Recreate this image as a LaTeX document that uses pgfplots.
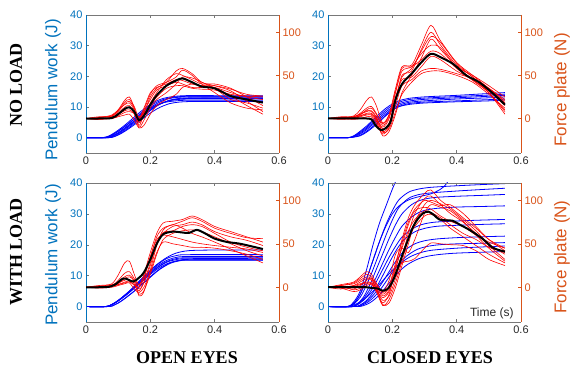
\documentclass[border=0pt]{standalone}
\usepackage{pgfplots}
\pgfplotsset{compat=1.18}
\usepackage{fontspec}
\setmainfont{Liberation Sans}
\newfontfamily\timesfont{Liberation Serif}
\definecolor{matblue}{RGB}{0,114,189}
\definecolor{matorange}{RGB}{217,83,25}
\definecolor{axgray}{RGB}{120,120,120}
\definecolor{txtgray}{RGB}{40,40,40}
\pgfplotsset{
  panel/.style={scale only axis, width=193pt, height=138pt, xmin=0, xmax=0.6,
    anchor=south west, clip mode=individual, tick align=inside, major tick length=3pt,
    /pgf/number format/assume math mode=true,
    ticklabel style={font=\fontsize{11}{13}\selectfont},
    axis line style={draw=none}},
  leftax/.style={panel, ymin=-5, ymax=40, ytick={0,10,20,30,40}, xtick={0,0.2,0.4,0.6},
    ytick pos=left, tick style={axgray, line width=0.5pt},
    yticklabel style={text=matblue}, xticklabel style={text=txtgray}},
  rightax/.style={panel, ymin=-40, ymax=120, ytick={0,50,100}, xtick=\empty,
    ytick pos=right, yticklabel pos=right, tick style={matorange, line width=0.5pt},
    yticklabel style={text=matorange}},
  rl/.style={red, line width=0.6pt, smooth},
  bl/.style={blue, line width=0.8pt, smooth},
  kl/.style={black, line width=2pt, smooth},
}
\newcommand{\leftspines}{%
  \draw[axgray, line width=0.5pt] (rel axis cs:0,0) -- (rel axis cs:1,0) (rel axis cs:0,1) -- (rel axis cs:1,1);
  \draw[matblue, line width=0.6pt] (rel axis cs:0,0) -- (rel axis cs:0,1);}
\newcommand{\rightspine}{%
  \draw[matorange, line width=0.6pt] (rel axis cs:1,0) -- (rel axis cs:1,1);}
\begin{document}
\begin{tikzpicture}
\useasboundingbox (0,0) rectangle (570pt,369pt);

%================ TOP LEFT: NO LOAD, OPEN EYES =================
\begin{axis}[leftax, at={(86pt,216pt)}]
\addplot[bl] coordinates {(0,0) (0.05,0) (0.07,0.5) (0.09,1.7) (0.11,3.2) (0.13,4.9) (0.15,6.7) (0.17,8.5) (0.19,10.1) (0.21,11.5) (0.24,12.8) (0.27,13.4) (0.31,13.7) (0.40,13.7) (0.55,13.7)};
\addplot[bl] coordinates {(0,0) (0.055,0) (0.075,0.5) (0.095,1.7) (0.115,3.2) (0.135,4.8) (0.155,6.6) (0.175,8.4) (0.195,10.0) (0.215,11.3) (0.245,12.6) (0.275,13.2) (0.315,13.5) (0.40,13.5) (0.55,13.5)};
\addplot[bl] coordinates {(0,0) (0.06,0) (0.08,0.5) (0.10,1.6) (0.12,3.1) (0.14,4.7) (0.16,6.4) (0.18,8.2) (0.20,9.8) (0.22,11.1) (0.25,12.5) (0.28,13.1) (0.32,13.3) (0.40,13.3) (0.55,13.3)};
\addplot[bl] coordinates {(0,0) (0.07,0) (0.09,0.5) (0.11,1.6) (0.13,3.0) (0.15,4.6) (0.17,6.3) (0.19,8.0) (0.21,9.6) (0.23,10.9) (0.26,12.2) (0.29,12.8) (0.33,13.0) (0.40,13.0) (0.55,13.0)};
\addplot[bl] coordinates {(0,0) (0.065,0) (0.085,0.5) (0.105,1.6) (0.125,3.0) (0.145,4.6) (0.165,6.2) (0.185,7.9) (0.205,9.4) (0.225,10.7) (0.255,12.0) (0.285,12.6) (0.325,12.8) (0.40,12.8) (0.55,12.8)};
\addplot[bl] coordinates {(0,0) (0.06,0) (0.08,0.5) (0.10,1.5) (0.12,2.9) (0.14,4.5) (0.16,6.1) (0.18,7.8) (0.20,9.3) (0.22,10.6) (0.25,11.8) (0.28,12.4) (0.32,12.6) (0.40,12.6) (0.55,12.6)};
\addplot[bl] coordinates {(0,0) (0.05,0) (0.07,0.4) (0.09,1.5) (0.11,2.8) (0.13,4.4) (0.15,6.0) (0.17,7.6) (0.19,9.0) (0.21,10.2) (0.24,11.4) (0.27,11.9) (0.31,12.2) (0.40,12.2) (0.55,12.2)};
\addplot[bl] coordinates {(0,0) (0.07,0) (0.09,0.4) (0.11,1.4) (0.13,2.7) (0.15,4.2) (0.17,5.7) (0.19,7.3) (0.21,8.7) (0.23,9.9) (0.26,11.1) (0.29,11.6) (0.33,11.8) (0.40,11.8) (0.55,11.8)};
\leftspines
\end{axis}
\begin{axis}[rightax, at={(86pt,216pt)}]
\addplot[rl] coordinates {(0,0) (0.04,1) (0.08,3) (0.10,10) (0.12,21) (0.135,25) (0.15,12) (0.165,-8) (0.18,6) (0.20,25) (0.22,35) (0.25,42) (0.28,55) (0.30,58) (0.33,52) (0.36,42) (0.40,38) (0.45,32) (0.50,20) (0.55,8)};
\addplot[rl] coordinates {(0,0) (0.04,-1) (0.08,2) (0.10,8) (0.12,17) (0.135,20) (0.15,12) (0.165,-5) (0.18,4) (0.20,18) (0.22,30) (0.25,45) (0.28,52) (0.30,50) (0.33,45) (0.36,40) (0.40,40) (0.45,35) (0.50,25) (0.55,15)};
\addplot[rl] coordinates {(0,0) (0.04,0) (0.08,1) (0.10,6) (0.12,13) (0.135,15) (0.15,5) (0.165,-10) (0.18,-2) (0.20,12) (0.22,22) (0.25,30) (0.28,40) (0.30,48) (0.33,47) (0.36,42) (0.40,35) (0.45,22) (0.50,18) (0.55,12)};
\addplot[rl] coordinates {(0,0) (0.04,2) (0.08,2) (0.10,5) (0.12,9) (0.135,10) (0.15,6) (0.165,0) (0.18,8) (0.20,22) (0.22,33) (0.25,38) (0.28,42) (0.30,40) (0.33,36) (0.36,36) (0.40,36) (0.45,30) (0.50,25) (0.55,22)};
\addplot[rl] coordinates {(0,0) (0.04,0) (0.08,0) (0.10,3) (0.12,7) (0.135,8) (0.15,6) (0.165,2) (0.18,6) (0.20,15) (0.22,25) (0.25,35) (0.28,38) (0.30,38) (0.33,35) (0.36,34) (0.40,33) (0.45,28) (0.50,26) (0.55,25)};
\addplot[rl] coordinates {(0,0) (0.04,1) (0.08,4) (0.10,10) (0.12,16) (0.135,18) (0.15,10) (0.165,-3) (0.18,10) (0.20,28) (0.22,38) (0.25,42) (0.28,48) (0.30,56) (0.33,50) (0.36,40) (0.40,30) (0.45,18) (0.50,12) (0.55,10)};
\addplot[rl] coordinates {(0,0) (0.04,-1) (0.08,0) (0.10,2) (0.12,4) (0.135,5) (0.15,-2) (0.165,-11) (0.18,-8) (0.20,5) (0.22,15) (0.25,22) (0.28,28) (0.30,36) (0.33,40) (0.36,38) (0.40,36) (0.45,26) (0.50,15) (0.55,5)};
\addplot[rl] coordinates {(0,0) (0.04,1) (0.08,3) (0.10,9) (0.12,19) (0.135,22) (0.15,14) (0.165,1) (0.18,12) (0.20,30) (0.22,36) (0.25,40) (0.28,45) (0.30,44) (0.33,40) (0.36,38) (0.40,38) (0.45,34) (0.50,28) (0.55,26)};
\addplot[kl] coordinates {(0,0) (0.04,0) (0.08,0.5) (0.10,5) (0.12,11) (0.135,13) (0.15,8) (0.165,-2) (0.18,3) (0.20,16) (0.22,27) (0.25,38) (0.28,44) (0.30,46.5) (0.33,42) (0.36,37) (0.40,35) (0.45,26) (0.50,22) (0.55,18.5)};
\rightspine
\end{axis}

%================ TOP RIGHT: NO LOAD, CLOSED EYES =================
\begin{axis}[leftax, at={(328pt,216pt)}]
\addplot[bl] coordinates {(0,0) (0.06,0) (0.08,0.6) (0.10,2.1) (0.12,3.8) (0.14,5.8) (0.16,7.8) (0.18,9.6) (0.20,11.0) (0.22,12.0) (0.25,12.8) (0.30,13.3) (0.40,13.8) (0.50,14.4) (0.55,14.7)};
\addplot[bl] coordinates {(0,0) (0.06,0) (0.08,0.5) (0.10,1.8) (0.12,3.4) (0.14,5.3) (0.16,7.2) (0.18,9.0) (0.20,10.5) (0.22,11.5) (0.25,12.4) (0.30,12.9) (0.40,13.4) (0.50,13.9) (0.55,14.2)};
\addplot[bl] coordinates {(0,0) (0.06,0) (0.08,0.4) (0.10,1.5) (0.12,3.0) (0.14,4.8) (0.16,6.6) (0.18,8.4) (0.20,9.9) (0.22,11.0) (0.25,11.9) (0.30,12.5) (0.40,13.0) (0.50,13.5) (0.55,13.8)};
\addplot[bl] coordinates {(0,0) (0.06,0) (0.08,0.3) (0.10,1.2) (0.12,2.6) (0.14,4.3) (0.16,6.1) (0.18,7.8) (0.20,9.4) (0.22,10.5) (0.25,11.5) (0.30,12.0) (0.40,12.6) (0.50,13.0) (0.55,13.3)};
\addplot[bl] coordinates {(0,0) (0.06,0) (0.08,0.2) (0.10,0.8) (0.12,2.1) (0.14,3.7) (0.16,5.5) (0.18,7.3) (0.20,8.9) (0.22,10.1) (0.25,11.1) (0.30,11.6) (0.40,12.0) (0.50,12.4) (0.55,12.6)};
\addplot[bl] coordinates {(0,0) (0.06,0) (0.08,0.2) (0.10,0.6) (0.12,1.8) (0.14,3.4) (0.16,5.2) (0.18,7.2) (0.20,9.0) (0.22,10.1) (0.25,10.8) (0.30,11.3) (0.40,11.7) (0.50,12.0) (0.55,12.3)};
\leftspines
\end{axis}
\begin{axis}[rightax, at={(328pt,216pt)}]
\addplot[rl] coordinates {(0,0) (0.04,1) (0.08,3) (0.10,10) (0.12,21) (0.135,25) (0.15,15) (0.17,-5) (0.19,5) (0.21,35) (0.23,60) (0.26,62) (0.29,85) (0.32,108) (0.35,90) (0.40,65) (0.45,50) (0.50,35) (0.55,20)};
\addplot[rl] coordinates {(0,0) (0.04,0) (0.08,2) (0.10,5) (0.12,8) (0.135,9) (0.15,2) (0.17,-15) (0.19,-8) (0.21,20) (0.23,50) (0.26,55) (0.29,80) (0.32,100) (0.35,85) (0.40,62) (0.45,48) (0.50,30) (0.55,5)};
\addplot[rl] coordinates {(0,0) (0.04,-1) (0.08,0) (0.10,2) (0.12,4) (0.135,4) (0.15,-3) (0.17,-20) (0.19,-15) (0.21,5) (0.23,30) (0.26,50) (0.29,70) (0.32,92) (0.35,80) (0.40,60) (0.45,45) (0.50,32) (0.55,15)};
\addplot[rl] coordinates {(0,0) (0.04,1) (0.08,1) (0.10,3) (0.12,6) (0.135,6) (0.15,0) (0.17,-10) (0.19,0) (0.21,30) (0.23,55) (0.26,60) (0.29,75) (0.32,85) (0.35,82) (0.40,60) (0.45,50) (0.50,38) (0.55,25)};
\addplot[rl] coordinates {(0,0) (0.04,0) (0.08,1) (0.10,4) (0.12,10) (0.135,12) (0.15,5) (0.17,-8) (0.19,2) (0.21,25) (0.23,45) (0.26,48) (0.29,60) (0.32,72) (0.35,68) (0.40,55) (0.45,45) (0.50,30) (0.55,10)};
\addplot[rl] coordinates {(0,0) (0.04,0) (0.08,-1) (0.10,0) (0.12,2) (0.135,2) (0.15,-5) (0.17,-18) (0.19,-10) (0.21,15) (0.23,38) (0.26,45) (0.29,55) (0.32,58) (0.35,57) (0.40,52) (0.45,46) (0.50,35) (0.55,22)};
\addplot[rl] coordinates {(0,0) (0.04,2) (0.08,2) (0.10,5) (0.12,9) (0.135,8) (0.15,1) (0.17,-12) (0.19,-5) (0.21,22) (0.23,48) (0.26,58) (0.29,78) (0.32,95) (0.35,88) (0.40,64) (0.45,48) (0.50,35) (0.55,18)};
\addplot[rl] coordinates {(0,0) (0.04,0) (0.08,1) (0.10,3) (0.12,5) (0.135,5) (0.15,-1) (0.17,-16) (0.19,-12) (0.21,8) (0.23,28) (0.26,42) (0.29,52) (0.32,55) (0.35,55) (0.40,50) (0.45,42) (0.50,28) (0.55,12)};
\addplot[rl] coordinates {(0,0) (0.04,1) (0.08,2) (0.10,6) (0.12,12) (0.135,14) (0.15,6) (0.17,-6) (0.19,4) (0.21,32) (0.23,58) (0.26,60) (0.29,68) (0.32,78) (0.35,75) (0.40,58) (0.45,44) (0.50,30) (0.55,8)};
\addplot[kl] coordinates {(0,0) (0.04,0) (0.08,0) (0.10,0) (0.12,0) (0.135,-1) (0.15,-9) (0.165,-13.5) (0.18,-11) (0.195,-3) (0.21,22) (0.23,40) (0.26,52) (0.29,65) (0.32,75) (0.35,71) (0.39,63) (0.43,50) (0.47,42) (0.51,30) (0.55,16)};
\rightspine
\end{axis}

%================ BOTTOM LEFT: WITH LOAD, OPEN EYES =================
\begin{axis}[leftax, at={(86pt,47pt)}, height=139pt]
\addplot[bl] coordinates {(0,0) (0.06,0) (0.08,0.6) (0.10,1.9) (0.12,3.6) (0.14,5.5) (0.16,7.6) (0.18,9.7) (0.20,11.7) (0.22,13.6) (0.25,15.8) (0.28,17.3) (0.32,18.1) (0.40,18.3) (0.55,18.3)};
\addplot[bl] coordinates {(0,0) (0.06,0) (0.08,0.7) (0.10,2.0) (0.12,3.7) (0.14,5.5) (0.16,7.6) (0.18,9.6) (0.20,11.6) (0.22,13.4) (0.25,15.5) (0.28,16.5) (0.32,16.8) (0.55,16.8)};
\addplot[bl] coordinates {(0,0) (0.06,0) (0.08,0.6) (0.10,1.9) (0.12,3.6) (0.14,5.3) (0.16,7.3) (0.18,9.2) (0.20,11.2) (0.22,13.0) (0.25,14.9) (0.28,15.9) (0.32,16.2) (0.55,16.2)};
\addplot[bl] coordinates {(0,0) (0.06,0) (0.08,0.6) (0.10,1.9) (0.12,3.5) (0.14,5.2) (0.16,7.1) (0.18,9.0) (0.20,10.9) (0.22,12.6) (0.25,14.5) (0.28,15.5) (0.32,15.8) (0.55,15.8)};
\addplot[bl] coordinates {(0,0) (0.06,0) (0.08,0.6) (0.10,1.9) (0.12,3.4) (0.14,5.1) (0.16,7.0) (0.18,8.8) (0.20,10.7) (0.22,12.4) (0.25,14.3) (0.28,15.2) (0.32,15.5) (0.55,15.5)};
\addplot[bl] coordinates {(0,0) (0.07,0) (0.09,0.6) (0.11,1.8) (0.13,3.4) (0.15,5.0) (0.17,6.9) (0.19,8.7) (0.21,10.6) (0.23,12.2) (0.26,14.1) (0.29,15.0) (0.33,15.3) (0.55,15.3)};
\addplot[bl] coordinates {(0,0) (0.06,0) (0.08,0.6) (0.10,1.8) (0.12,3.3) (0.14,5.0) (0.16,6.8) (0.18,8.6) (0.20,10.4) (0.22,12.0) (0.25,13.8) (0.28,14.7) (0.32,15.0) (0.55,15.0)};
\addplot[bl] coordinates {(0,0) (0.07,0) (0.09,0.6) (0.11,1.8) (0.13,3.3) (0.15,5.0) (0.17,6.8) (0.19,8.6) (0.21,10.4) (0.23,12.1) (0.26,13.9) (0.29,14.8) (0.33,15.1) (0.55,15.1)};
\leftspines
\end{axis}
\begin{axis}[rightax, at={(86pt,47pt)}, height=139pt]
\addplot[rl] coordinates {(0,0) (0.04,1) (0.08,4) (0.10,14) (0.12,28) (0.135,30) (0.15,15) (0.165,2) (0.18,10) (0.20,35) (0.22,58) (0.24,68) (0.27,72) (0.30,76) (0.33,80) (0.36,76) (0.40,68) (0.45,62) (0.50,57) (0.55,56)};
\addplot[rl] coordinates {(0,0) (0.04,0) (0.08,2) (0.10,6) (0.12,12) (0.135,14) (0.15,8) (0.165,-2) (0.18,5) (0.20,25) (0.22,50) (0.24,62) (0.27,70) (0.30,72) (0.33,75) (0.36,72) (0.40,64) (0.45,58) (0.50,54) (0.55,48)};
\addplot[rl] coordinates {(0,0) (0.04,2) (0.08,3) (0.10,5) (0.12,8) (0.135,9) (0.15,4) (0.165,-8) (0.18,-4) (0.20,15) (0.22,38) (0.24,55) (0.27,62) (0.30,65) (0.33,66) (0.36,64) (0.40,58) (0.45,50) (0.50,42) (0.55,36)};
\addplot[rl] coordinates {(0,0) (0.04,0) (0.08,1) (0.10,4) (0.12,10) (0.135,12) (0.15,7) (0.165,-10) (0.18,-5) (0.20,20) (0.22,48) (0.24,66) (0.27,72) (0.30,68) (0.33,62) (0.36,58) (0.40,52) (0.45,44) (0.50,36) (0.55,28)};
\addplot[rl] coordinates {(0,0) (0.04,1) (0.08,2) (0.10,3) (0.12,5) (0.135,6) (0.15,3) (0.165,0) (0.18,12) (0.20,35) (0.22,55) (0.24,60) (0.27,58) (0.30,55) (0.33,52) (0.36,50) (0.40,48) (0.45,46) (0.50,44) (0.55,40)};
\addplot[rl] coordinates {(0,0) (0.04,-1) (0.08,0) (0.10,2) (0.12,4) (0.135,5) (0.15,-2) (0.165,-6) (0.18,0) (0.20,18) (0.22,40) (0.24,52) (0.27,50) (0.30,48) (0.33,46) (0.36,46) (0.40,45) (0.45,42) (0.50,38) (0.55,32)};
\addplot[rl] coordinates {(0,0) (0.04,0) (0.08,2) (0.10,8) (0.12,16) (0.135,18) (0.15,10) (0.165,3) (0.18,15) (0.20,40) (0.22,62) (0.24,74) (0.27,76) (0.30,78) (0.33,82) (0.36,78) (0.40,70) (0.45,64) (0.50,58) (0.55,52)};
\addplot[rl] coordinates {(0,0) (0.04,1) (0.08,1) (0.10,3) (0.12,6) (0.135,7) (0.15,2) (0.165,-4) (0.18,6) (0.20,28) (0.22,52) (0.24,63) (0.27,65) (0.30,70) (0.33,72) (0.36,70) (0.40,62) (0.45,52) (0.50,46) (0.55,42)};
\addplot[kl] coordinates {(0,0) (0.04,0) (0.07,0.5) (0.09,3) (0.115,10) (0.13,9) (0.147,6.5) (0.165,11) (0.18,17) (0.20,32) (0.22,50) (0.24,61) (0.27,64) (0.30,63) (0.32,62.5) (0.345,66) (0.37,62) (0.40,56) (0.44,52) (0.48,50) (0.55,44)};
\rightspine
\end{axis}

%================ BOTTOM RIGHT: WITH LOAD, CLOSED EYES =================
\begin{axis}[leftax, at={(328pt,47pt)}, height=139pt]
\addplot[bl] coordinates {(0,0) (0.06,0) (0.08,1.5) (0.10,5) (0.12,12) (0.14,20) (0.16,27) (0.18,32.5) (0.20,38) (0.22,43) (0.25,52)};
\addplot[bl] coordinates {(0,0) (0.06,0) (0.08,1) (0.10,4) (0.12,9) (0.14,15) (0.16,21) (0.18,26) (0.20,30) (0.22,32.5) (0.25,34.5) (0.28,35.5) (0.32,36.5) (0.35,38) (0.37,40) (0.39,45)};
\addplot[bl] coordinates {(0,0) (0.06,0) (0.08,1) (0.10,4) (0.12,9) (0.14,15) (0.16,21) (0.18,26.5) (0.20,31) (0.22,34.5) (0.25,37) (0.28,38) (0.32,38.6) (0.40,39.1) (0.48,39.5) (0.55,39.8)};
\addplot[bl] coordinates {(0,0) (0.06,0) (0.08,0.8) (0.10,3) (0.12,7) (0.14,12) (0.16,17.5) (0.18,23) (0.20,28) (0.22,32) (0.25,35) (0.28,36.2) (0.32,36.8) (0.40,37.4) (0.48,37.9) (0.55,38.3)};
\addplot[bl] coordinates {(0,0) (0.07,0) (0.09,0.8) (0.11,3) (0.13,7) (0.15,12) (0.17,17) (0.19,22) (0.21,26.5) (0.23,30) (0.26,33) (0.29,34.5) (0.33,35.3) (0.40,35.7) (0.48,36.0) (0.55,36.3)};
\addplot[bl] coordinates {(0,0) (0.07,0) (0.09,0.6) (0.11,2.5) (0.13,5.5) (0.15,9.5) (0.17,14) (0.19,18.5) (0.21,22.5) (0.23,26) (0.26,29) (0.29,30.8) (0.33,31.7) (0.40,32.2) (0.48,32.4) (0.55,32.6)};
\addplot[bl] coordinates {(0,0) (0.07,0) (0.09,0.5) (0.11,2) (0.13,4.5) (0.15,8) (0.17,12) (0.19,16) (0.21,19.5) (0.23,22.5) (0.26,25) (0.29,26.5) (0.33,27.3) (0.40,27.7) (0.48,28.0) (0.55,28.2)};
\addplot[bl] coordinates {(0,0) (0.08,0) (0.10,0.5) (0.12,2) (0.14,4.5) (0.16,8) (0.18,12) (0.20,16) (0.22,19.5) (0.24,22) (0.27,24.2) (0.30,25.3) (0.34,26) (0.40,26.3) (0.48,26.6) (0.55,26.8)};
\addplot[bl] coordinates {(0,0) (0.08,0) (0.10,0.4) (0.12,1.6) (0.14,3.6) (0.16,6.4) (0.18,9.6) (0.20,13) (0.22,16) (0.24,18.3) (0.27,20.3) (0.30,21.3) (0.34,21.9) (0.40,22.3) (0.48,22.6) (0.55,22.8)};
\addplot[bl] coordinates {(0,0) (0.085,0) (0.105,0.4) (0.125,1.5) (0.145,3.3) (0.165,5.8) (0.185,8.8) (0.205,11.8) (0.225,14.4) (0.245,16.4) (0.275,18.4) (0.305,19.4) (0.345,20) (0.40,20.3) (0.48,20.5) (0.55,20.7)};
\addplot[bl] coordinates {(0,0) (0.06,0) (0.08,0.5) (0.10,1.5) (0.12,3) (0.14,5) (0.16,7.2) (0.18,9.5) (0.20,11.7) (0.22,13.6) (0.25,15.8) (0.28,17.2) (0.32,18.2) (0.40,18.9) (0.48,19.3) (0.55,19.6)};
\addplot[bl] coordinates {(0,0) (0.09,0) (0.11,0.3) (0.13,1.2) (0.15,2.8) (0.17,5) (0.19,7.6) (0.21,10) (0.23,12.2) (0.25,13.8) (0.28,15.4) (0.31,16.3) (0.35,16.9) (0.40,17.3) (0.48,17.6) (0.55,17.8)};
\leftspines
\end{axis}
\begin{axis}[rightax, at={(328pt,47pt)}, height=139pt]
\addplot[rl] coordinates {(0,0) (0.04,2) (0.08,5) (0.10,10) (0.12,15) (0.135,12) (0.15,2) (0.17,-8) (0.19,0) (0.21,25) (0.23,55) (0.25,80) (0.27,95) (0.30,108) (0.32,112) (0.35,100) (0.38,92) (0.42,80) (0.46,68) (0.50,55) (0.55,45)};
\addplot[rl] coordinates {(0,0) (0.04,-2) (0.08,2) (0.10,6) (0.12,10) (0.135,8) (0.15,-2) (0.17,-15) (0.19,-10) (0.21,10) (0.23,35) (0.25,62) (0.27,85) (0.30,102) (0.32,105) (0.35,95) (0.38,85) (0.42,75) (0.46,62) (0.50,48) (0.55,32)};
\addplot[rl] coordinates {(0,0) (0.04,1) (0.08,-3) (0.10,-1) (0.12,4) (0.135,5) (0.15,0) (0.17,-20) (0.19,-18) (0.21,0) (0.23,25) (0.25,50) (0.27,75) (0.30,95) (0.32,100) (0.35,96) (0.38,90) (0.42,78) (0.46,65) (0.50,50) (0.55,38)};
\addplot[rl] coordinates {(0,0) (0.04,3) (0.08,6) (0.10,12) (0.12,18) (0.135,15) (0.15,5) (0.17,-5) (0.19,8) (0.21,38) (0.23,45) (0.25,40) (0.27,55) (0.30,85) (0.32,95) (0.35,92) (0.38,88) (0.42,76) (0.46,60) (0.50,45) (0.55,30)};
\addplot[rl] coordinates {(0,0) (0.04,0) (0.08,2) (0.10,4) (0.12,6) (0.135,5) (0.15,-3) (0.17,-12) (0.19,-5) (0.21,15) (0.23,28) (0.25,30) (0.27,33) (0.30,45) (0.32,51) (0.35,50) (0.38,49) (0.42,48) (0.46,42) (0.50,32) (0.55,25)};
\addplot[rl] coordinates {(0,0) (0.04,-1) (0.08,-5) (0.10,-3) (0.12,2) (0.135,3) (0.15,-5) (0.17,-18) (0.19,-8) (0.21,20) (0.23,48) (0.25,72) (0.27,88) (0.30,92) (0.32,90) (0.35,82) (0.38,76) (0.42,70) (0.46,60) (0.50,52) (0.55,45)};
\addplot[rl] coordinates {(0,0) (0.04,2) (0.08,4) (0.10,8) (0.12,12) (0.135,10) (0.15,0) (0.17,-10) (0.19,-3) (0.21,22) (0.23,45) (0.25,65) (0.27,78) (0.30,88) (0.32,86) (0.35,80) (0.38,72) (0.42,62) (0.46,55) (0.50,46) (0.55,40)};
\addplot[rl] coordinates {(0,0) (0.04,0) (0.08,-2) (0.10,2) (0.12,8) (0.135,10) (0.15,4) (0.17,-6) (0.19,2) (0.21,28) (0.23,52) (0.25,75) (0.27,90) (0.30,100) (0.32,98) (0.35,94) (0.38,95) (0.42,85) (0.46,70) (0.50,55) (0.55,42)};
\addplot[rl] coordinates {(0,0) (0.04,1) (0.08,1) (0.10,3) (0.12,5) (0.135,4) (0.15,-4) (0.17,-21) (0.19,-14) (0.21,5) (0.23,30) (0.25,55) (0.27,70) (0.30,82) (0.32,84) (0.35,78) (0.38,68) (0.42,58) (0.46,48) (0.50,38) (0.55,28)};
\addplot[kl] coordinates {(0,0) (0.04,0) (0.08,0) (0.10,0) (0.12,0) (0.14,-1) (0.155,-1.5) (0.17,-4) (0.185,-2) (0.20,6) (0.215,20) (0.233,39) (0.25,56) (0.265,70) (0.28,79) (0.295,85) (0.312,87) (0.33,83) (0.346,78) (0.37,77) (0.388,76.5) (0.41,72) (0.44,66) (0.48,56) (0.51,46) (0.53,43) (0.55,41)};
\rightspine
\node[anchor=east, text=txtgray, font=\fontsize{12}{14}\selectfont] at (rel axis cs:0.98,0.065) {Time (s)};
\end{axis}

%================ LABELS =================
\node[rotate=90, text=matblue, font=\fontsize{17}{19}\selectfont] at (53pt,279pt) {Pendulum work (J)};
\node[rotate=90, text=matblue, font=\fontsize{17}{19}\selectfont] at (53pt,114pt) {Pendulum work (J)};
\node[rotate=90, text=matorange, font=\fontsize{17}{19}\selectfont] at (562pt,279pt) {Force plate (N)};
\node[rotate=90, text=matorange, font=\fontsize{17}{19}\selectfont] at (562pt,112pt) {Force plate (N)};
\node[rotate=90, font=\timesfont\bfseries\fontsize{18}{20}\selectfont] at (16pt,284pt) {NO LOAD};
\node[rotate=90, font=\timesfont\bfseries\fontsize{18}{20}\selectfont] at (16pt,117pt) {WITH LOAD};
\node[font=\timesfont\bfseries\fontsize{18}{20}\selectfont] at (187pt,11pt) {OPEN EYES};
\node[font=\timesfont\bfseries\fontsize{18}{20}\selectfont] at (430pt,11pt) {CLOSED EYES};
\end{tikzpicture}
\end{document}
